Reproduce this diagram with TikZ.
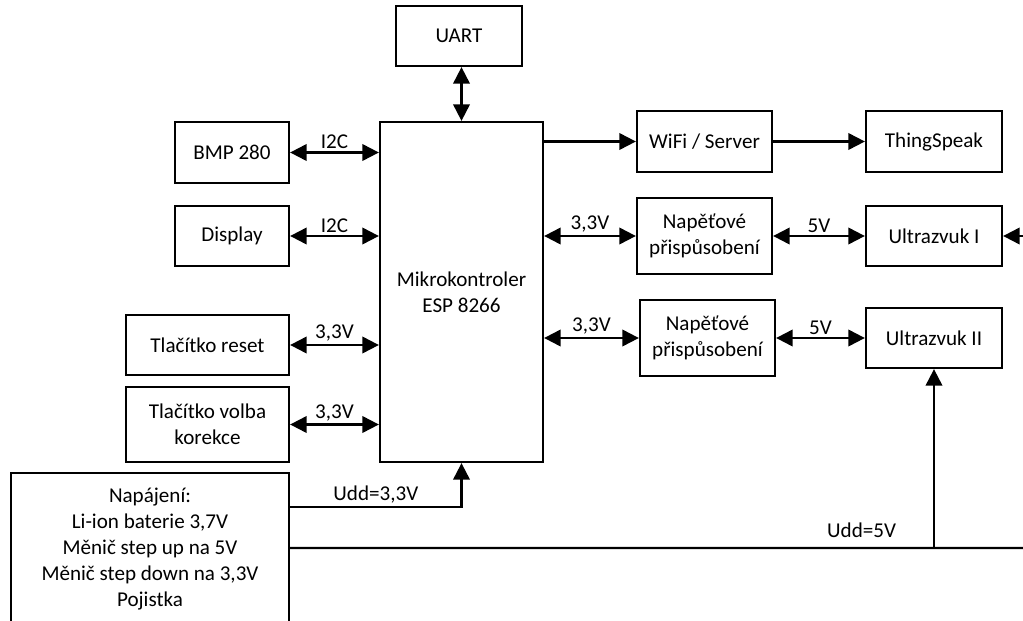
\documentclass[tikz,border=0pt]{standalone}
\usepackage{fontspec}
\setmainfont{Carlito}
\usetikzlibrary{arrows.meta, positioning, calc}
\tikzset{
  blok/.style={draw, line width=1.3pt, minimum width=2.7cm, minimum height=1.2cm,
               align=center, inner sep=2pt},
  arrow/.style={-{Triangle[length=3.3mm,width=3.3mm]}, line width=1.2pt},
  twoway/.style={{Triangle[length=3.3mm,width=3.3mm]}-{Triangle[length=3.3mm,width=3.3mm]},
                 line width=1.2pt},
  wire/.style={line width=1.2pt},
  lbl/.style={above, inner sep=1.5pt}
}

\begin{document}
\begin{tikzpicture}[font=\fontsize{12}{14.8}\selectfont]
  \useasboundingbox (0,0) rectangle (20.46,12.4);

  \node[blok, minimum width=3.26cm, minimum height=6.8cm] (mcu) at (9.23, 6.56) {Mikrokontroler\\ESP 8266};
  \node[blok, minimum width=2.52cm] (uart) at (9.18, 11.68) {UART};

  \node[blok, minimum width=2.28cm, minimum height=1.22cm] (bmp) at (4.64, 9.35) {BMP 280};
  \node[blok, minimum width=2.28cm] (disp) at (4.64, 7.68) {Display};
  \node[blok, minimum width=3.26cm] (reset) at (4.15, 5.5) {Tlačítko reset};
  \node[blok, minimum width=3.26cm, minimum height=1.5cm] (volba) at (4.15, 3.91) {Tlačítko volba\\korekce};
  \node[blok, minimum width=5.56cm, minimum height=3.04cm] (napajeni) at (3.0, 1.42)
    {Napájení:\\Li-ion baterie 3,7V\\Měnič step up na 5V\\Měnič step down na 3,3V\\Pojistka};

  \node[blok, minimum height=1.22cm] (wifi) at (14.09, 9.57) {WiFi / Server};
  \node[blok, minimum width=2.72cm, minimum height=1.22cm] (thing) at (18.68, 9.57) {ThingSpeak};
  \node[blok, minimum height=1.52cm] (prisp1) at (14.09, 7.68) {Napěťové\\přispůsobení};
  \node[blok, minimum width=2.72cm] (ultra1) at (18.68, 7.68) {Ultrazvuk I};
  \node[blok, minimum height=1.52cm] (prisp2) at (14.15, 5.64) {Napěťové\\přispůsobení};
  \node[blok, minimum width=2.72cm] (ultra2) at (18.68, 5.64) {Ultrazvuk II};

  \coordinate (ein) at (20.7, 7.68);
  \coordinate (u33) at ([yshift=0.84cm]napajeni.east);
  \coordinate (u5) at ([yshift=0.02cm]napajeni.east);
  \coordinate (eout) at (20.7, 1.44);

  \draw[twoway] (uart.south -| mcu.north) -- (mcu.north);
  \draw[twoway] (bmp.east) -- node[lbl]{I2C} (bmp.east -| mcu.west);
  \draw[twoway] (disp.east) -- node[lbl]{I2C} (disp.east -| mcu.west);
  \draw[twoway] (reset.east) -- node[lbl]{3,3V} (reset.east -| mcu.west);
  \draw[twoway] (volba.east) -- node[lbl]{3,3V} (volba.east -| mcu.west);

  \draw[arrow] (wifi.west -| mcu.east) -- (wifi.west);
  \draw[arrow] (wifi.east) -- (thing.west);
  \draw[twoway] (prisp1.west -| mcu.east) -- node[lbl]{3,3V} (prisp1.west);
  \draw[twoway] (prisp1.east) -- node[lbl]{5V} (ultra1.west);
  \draw[twoway] (prisp2.west -| mcu.east) -- node[lbl]{3,3V} (prisp2.west);
  \draw[twoway] (prisp2.east) -- node[lbl]{5V} (ultra2.west);
  \draw[arrow] (ein) -- (ultra1.east);

  \draw[arrow] (u33) -| node[lbl, pos=0.25]{Udd=3,3V} (mcu.south);
  \draw[wire] (u5) -- (eout);
  \draw[arrow] (ultra2.south |- u5) -- (ultra2.south);
  \node[above left, inner sep=1.5pt, xshift=-0.7cm, yshift=0.15cm] (l5) at (ultra2.south |- u5) {Udd=5V};
\end{tikzpicture}
\end{document}
